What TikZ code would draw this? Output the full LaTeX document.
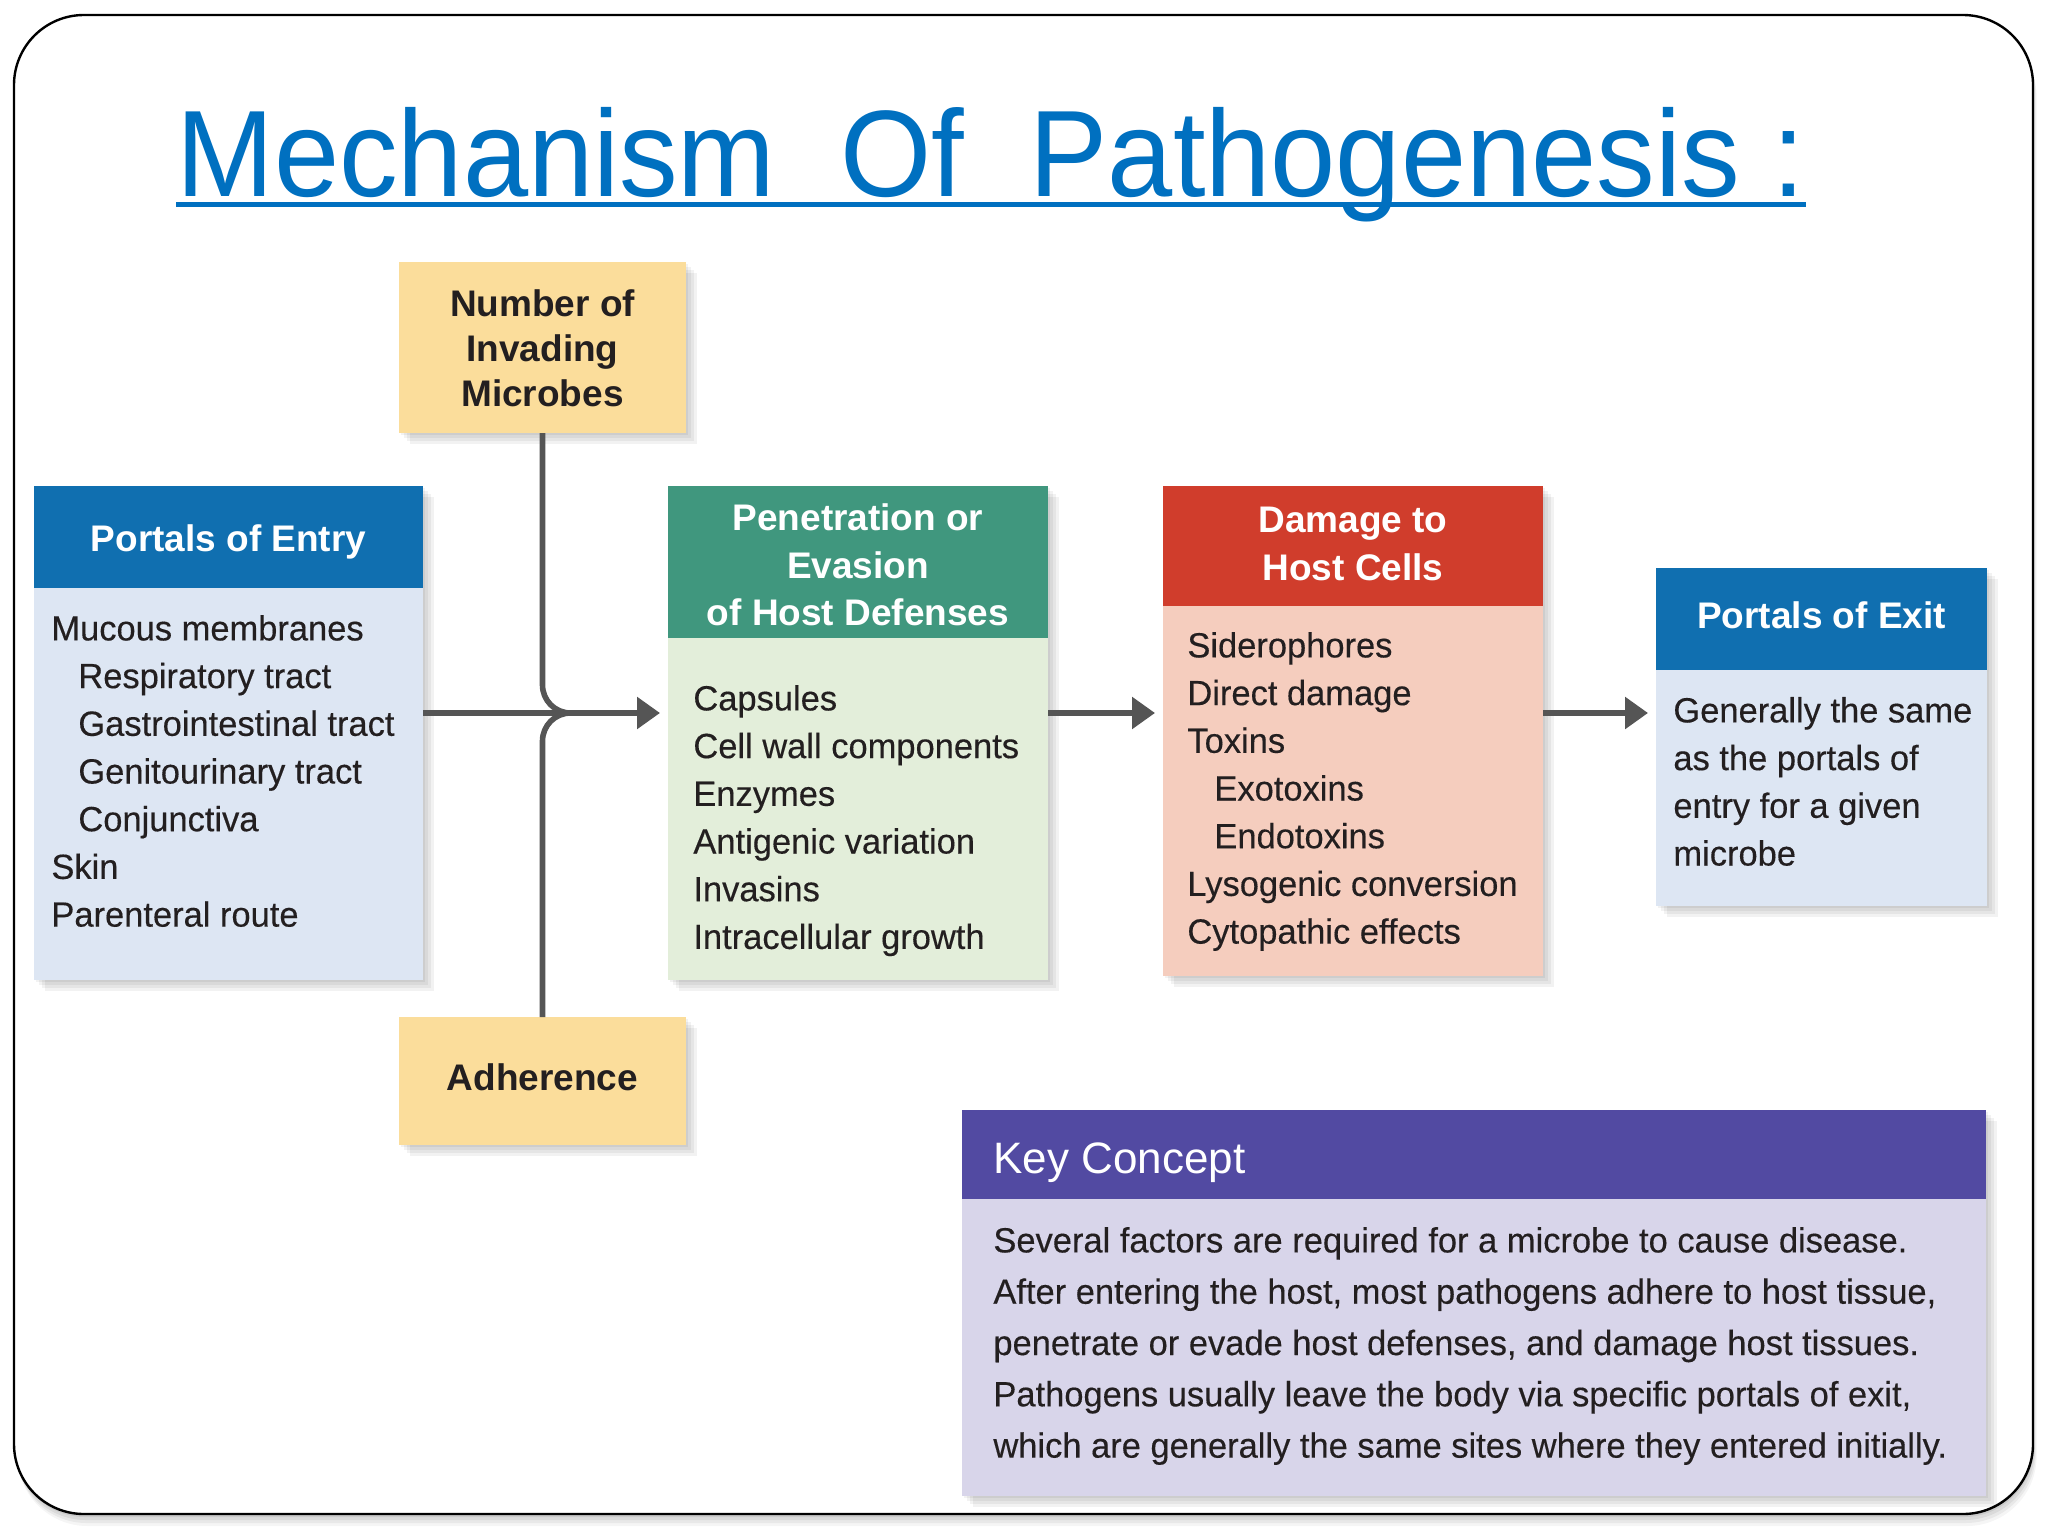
\documentclass[tikz,border=0pt]{standalone}
\usepackage{fontspec}
\setmainfont{Liberation Sans}
\newfontfamily\titlefont[FakeStretch=0.953]{Liberation Sans}
\newfontfamily\bodyfont[FakeBold=0.3,FakeStretch=0.985]{Liberation Sans}
\usetikzlibrary{arrows.meta,backgrounds,calc}
\definecolor{titleblue}{RGB}{0,112,192}
\definecolor{hblue}{RGB}{16,111,176}
\definecolor{bblue}{RGB}{221,230,243}
\definecolor{hgreen}{RGB}{64,151,126}
\definecolor{bgreen}{RGB}{227,238,218}
\definecolor{hred}{RGB}{208,61,44}
\definecolor{bred}{RGB}{245,205,190}
\definecolor{yel}{RGB}{251,221,155}
\definecolor{hpurple}{RGB}{82,74,162}
\definecolor{bpurple}{RGB}{216,213,234}
\definecolor{txt}{RGB}{35,31,32}
\definecolor{conn}{RGB}{85,85,85}
\tikzset{
  band/.style={rectangle, inner sep=0, outer sep=0, anchor=north west, draw=none},
  head/.style={inner sep=0, text=white, font=\bfseries\fontsize{18.5}{23.85}\selectfont, align=center, anchor=north},
  bodytxt/.style={inner sep=0, text=txt, font=\bodyfont\fontsize{17.5}{23.85}\selectfont, align=left, anchor=north west},
  ytxt/.style={inner sep=0, text=txt, font=\bfseries\fontsize{18.5}{22.5}\selectfont, align=center, anchor=north},
  arr/.style={draw=conn, line width=2.8pt, -{Triangle[length=11.5pt,width=15.5pt]}, shorten >=4pt},
  connline/.style={draw=conn, line width=2.8pt},
}
\begin{document}
\begin{tikzpicture}[x=0.5pt,y=-0.5pt]
% title
\node[anchor=base west, inner sep=0, font=\titlefont\fontsize{61.5}{70}\selectfont, text=titleblue] (title) at (176,196) {Mechanism\ \ Of\ \ Pathogenesis :};
\draw[titleblue, line width=2.5pt] ($(title.base west)+(0,8)$) -- ($(title.base east)+(0,8)$);

% yellow boxes
\node[band, fill=yel, minimum width=143.5pt, minimum height=85.5pt] (num) at (399,262) {};
\node[band, fill=yel, minimum width=143.5pt, minimum height=64pt] (adh) at (399,1017) {};
% portals of entry
\node[band, fill=hblue, minimum width=194.5pt, minimum height=51pt] (entryH) at (34,486) {};
\node[band, fill=bblue, minimum width=194.5pt, minimum height=196pt] (entryB) at (34,588) {};
% penetration
\node[band, fill=hgreen, minimum width=190pt, minimum height=76pt] (penH) at (668,486) {};
\node[band, fill=bgreen, minimum width=190pt, minimum height=171pt] (penB) at (668,638) {};
% damage
\node[band, fill=hred, minimum width=190pt, minimum height=60pt] (damH) at (1163,486) {};
\node[band, fill=bred, minimum width=190pt, minimum height=185pt] (damB) at (1163,606) {};
% exit
\node[band, fill=hblue, minimum width=165.5pt, minimum height=51pt] (exitH) at (1656,568) {};
\node[band, fill=bblue, minimum width=165.5pt, minimum height=118pt] (exitB) at (1656,670) {};
% key concept
\node[band, fill=hpurple, minimum width=512pt, minimum height=44.5pt] (keyH) at (962,1110) {};
\node[band, fill=bpurple, minimum width=512pt, minimum height=148.5pt] (keyB) at (962,1199) {};

% texts
\node[ytxt] (numT) at (542.5,286) {\rule{0pt}{15pt}Number of\\Invading\\Microbes};
\node[ytxt, anchor=base] (adhT) at (542.5,1090) {Adherence};
\node[head, anchor=base] (entryT) at (228.5,551) {Portals of Entry};
\node[head] (penT) at (858,500) {\rule{0pt}{15pt}Penetration or\\Evasion\\of Host Defenses};
\node[head] (damT) at (1353,502) {\rule{0pt}{15pt}Damage to\\Host Cells};
\node[head, anchor=base] (exitT) at (1821.5,628) {Portals of Exit};
\node[bodytxt] (entryL) at (51,610) {\rule{0pt}{15pt}Mucous membranes\\
  \hspace*{13.5pt}Respiratory tract\\
  \hspace*{13.5pt}Gastrointestinal tract\\
  \hspace*{13.5pt}Genitourinary tract\\
  \hspace*{13.5pt}Conjunctiva\\
  Skin\\
  Parenteral route};
\node[bodytxt] (penL) at (693,680) {\rule{0pt}{15pt}Capsules\\Cell wall components\\Enzymes\\Antigenic variation\\Invasins\\Intracellular growth};
\node[bodytxt] (damL) at (1187,627) {\rule{0pt}{15pt}Siderophores\\Direct damage\\Toxins\\
  \hspace*{13.5pt}Exotoxins\\
  \hspace*{13.5pt}Endotoxins\\
  Lysogenic conversion\\Cytopathic effects};
\node[bodytxt] (exitL) at (1673,692) {\rule{0pt}{15pt}Generally the same\\as the portals of\\entry for a given\\microbe};
\node[anchor=base west, inner sep=0, text=white, font=\fontsize{22}{26}\selectfont] (keyT) at (993,1173) {Key Concept};
\node[bodytxt, font=\bodyfont\fontsize{17.5}{25.65}\selectfont] (keyL) at (993,1222) {\rule{0pt}{15pt}Several factors are required for a microbe to cause disease.\\
  After entering the host, most pathogens adhere to host tissue,\\
  penetrate or evade host defenses, and damage host tissues.\\
  Pathogens usually leave the body via specific portals of exit,\\
  which are generally the same sites where they entered initially.};

% connectors
\coordinate (j) at (542.5,713);
\coordinate (jr) at (600,713);
\draw[connline, rounded corners=14pt] (num.south) |- (jr);
\draw[connline, rounded corners=14pt] (adh.north) |- (jr);
\draw[arr] (entryB.east |- j) -- (penB.west |- j);
\draw[arr] (penB.east |- j) -- (damB.west |- j);
\draw[arr] (damB.east |- j) -- (exitB.west |- j);

% background: page, frame, shadows
\begin{scope}[on background layer]
  \path[use as bounding box, fill=white] (0,0) rectangle (2048,1536);
  \foreach \d/\o in {3/0.07,6/0.06,9/0.05,12/0.04}{
    \fill[black, opacity=\o, rounded corners=35pt] (14+\d*0.3,15+\d) rectangle (2033+\d*0.3,1514+\d);
  }
  \draw[fill=white, line width=1.2pt, rounded corners=35pt] (14,15) rectangle (2033,1514);
  \foreach \a/\b in {num.north west/num.south east, adh.north west/adh.south east,
      entryH.north west/entryB.south east, penH.north west/penB.south east,
      damH.north west/damB.south east, exitH.north west/exitB.south east,
      keyH.north west/keyB.south east}{
    \foreach \d in {2,5,8,11}{
      \fill[black, opacity=0.05] ($(\a)+(\d,\d)$) rectangle ($(\b)+(\d,\d)$);
    }
  }
\end{scope}
\end{tikzpicture}
\end{document}
